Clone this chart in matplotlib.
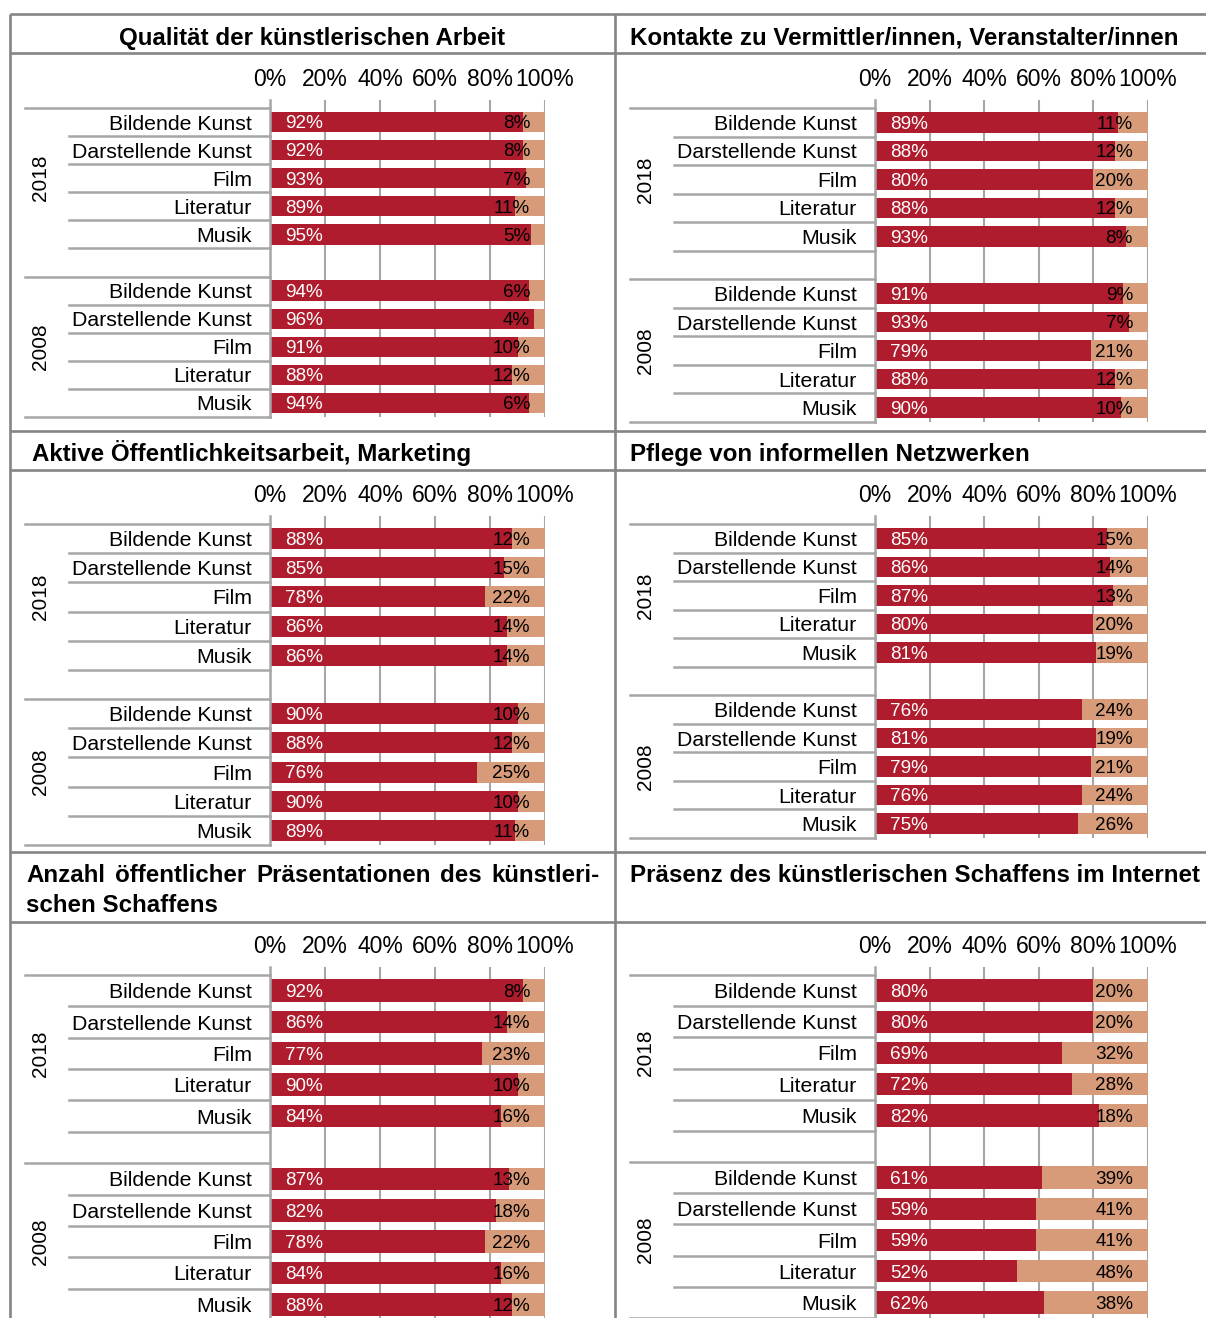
import matplotlib
matplotlib.use("Agg")
import matplotlib.pyplot as plt
import numpy as np

plt.rcParams['font.family'] = ['Liberation Sans', 'DejaVu Sans']

W, H = 1206, 1318
RED = '#AE1C2D'
TAN = '#D89B79'
FRAME = '#858585'
GRID = '#A6A6A6'

categories = ["Bildende Kunst", "Darstellende Kunst", "Film", "Literatur", "Musik"]
years = ["2018", "2008"]
tick_vals = [0, 20, 40, 60, 80, 100]
tick_labels = ["0%", "20%", "40%", "60%", "80%", "100%"]

titles = [
    "Qualität der künstlerischen Arbeit",
    "Kontakte zu Vermittler/innen, Veranstalter/innen",
    "Aktive Öffentlichkeitsarbeit, Marketing",
    "Pflege von informellen Netzwerken",
    "Anzahl öffentlicher Präsentationen des künstleri-\nschen Schaffens",
    "Präsenz des künstlerischen Schaffens im Internet",
]

# first five values: 2018, last five: 2008 (same category order)
quality_red = [92, 92, 93, 89, 95, 94, 96, 91, 88, 94]
quality_tan = [8, 8, 7, 11, 5, 6, 4, 10, 12, 6]
contacts_red = [89, 88, 80, 88, 93, 91, 93, 79, 88, 90]
contacts_tan = [11, 12, 20, 12, 8, 9, 7, 21, 12, 10]
marketing_red = [88, 85, 78, 86, 86, 90, 88, 76, 90, 89]
marketing_tan = [12, 15, 22, 14, 14, 10, 12, 25, 10, 11]
network_red = [85, 86, 87, 80, 81, 76, 81, 79, 76, 75]
network_tan = [15, 14, 13, 20, 19, 24, 19, 21, 24, 26]
present_red = [92, 86, 77, 90, 84, 87, 82, 78, 84, 88]
present_tan = [8, 14, 23, 10, 16, 13, 18, 22, 16, 12]
internet_red = [80, 80, 69, 72, 82, 61, 59, 59, 52, 62]
internet_tan = [20, 20, 32, 28, 18, 39, 41, 41, 48, 38]

panels_red = [quality_red, contacts_red, marketing_red, network_red, present_red, internet_red]
panels_tan = [quality_tan, contacts_tan, marketing_tan, network_tan, present_tan, internet_tan]

# slot positions: 5 categories, a blank slot, 5 categories
pos = [0, 1, 2, 3, 4, 6, 7, 8, 9, 10]

# panel geometry in pixels: x0, x1, top separator, bottom, year label x
geom = [
    (270, 545, 108, 417, 40),
    (875, 1148, 108, 422, 645),
    (270, 545, 524, 845, 40),
    (875, 1148, 524, 838, 645),
    (270, 545, 975, 1320, 40),
    (875, 1148, 975, 1318, 645),
]

fig = plt.figure(figsize=(W / 100, H / 100), dpi=100)

# background layer in pixel coordinates: frame and titles
bg = fig.add_axes([0, 0, 1, 1])
bg.set_xlim(0, W)
bg.set_ylim(H, 0)
bg.set_axis_off()
for y in [14, 53, 431, 470, 852, 922]:
    bg.plot([10, W], [y, y], color=FRAME, lw=1.9, solid_capstyle='butt')
for x in [10, 615]:
    bg.plot([x, x], [14, H], color=FRAME, lw=1.9, solid_capstyle='butt')

tkw = dict(fontsize=17.4, fontweight='bold', va='baseline')
bg.text(312, 44.5, titles[0], ha='center', **tkw)
bg.text(630, 44.5, titles[1], ha='left', **tkw)
bg.text(32, 461, titles[2], ha='left', **tkw)
bg.text(630, 461, titles[3], ha='left', **tkw)
bg.text(630, 882, titles[5], ha='left', **tkw)

# justified two-line title
line1, line2 = titles[4].split("\n")
words = line1.split()
txts = [bg.text(0, 881.5, w, ha='left', **tkw) for w in words]
bg.text(26, 911.5, line2, ha='left', **tkw)
fig.canvas.draw()
rend = fig.canvas.get_renderer()
widths = [t.get_window_extent(rend).width for t in txts]
gap = (600 - 26 - sum(widths)) / (len(words) - 1)
xx = 26
for t, w in zip(txts, widths):
    t.set_x(xx)
    xx += w + gap

ext = 8
for k in range(6):
    x0, x1, top, bot, yx = geom[k]
    slot = (bot - top) / 11
    ax = fig.add_axes([x0 / W, 1 - bot / H, (x1 - x0) / W, (bot - top + ext) / H])
    ax.set_xlim(0, 100)
    ax.set_ylim(10.5, -0.5 - ext / slot)
    ax.patch.set_alpha(0)

    red = np.array(panels_red[k], dtype=float)
    tan = np.array(panels_tan[k], dtype=float)
    r = red / (red + tan) * 100
    t = tan / (red + tan) * 100
    ax.barh(pos, r, height=0.72, color=RED, zorder=2)
    ax.barh(pos, t, left=r, height=0.72, color=TAN, zorder=2)

    for p, v1, v2 in zip(pos, panels_red[k], panels_tan[k]):
        ax.annotate(f"{v1}%", xy=(0, p), xytext=(10.8, -1.3), textcoords='offset points',
                    ha='left', va='center', color='white', fontsize=13.6, zorder=3)
        ax.annotate(f"{v2}%", xy=(100, p), xytext=(-10.8, -1.3), textcoords='offset points',
                    ha='right', va='center', color='black', fontsize=13.6, zorder=3)

    ax.xaxis.tick_top()
    ax.set_xticks(tick_vals, tick_labels, fontsize=16.5)
    ax.set_yticks(pos, categories * 2, fontsize=15.3)
    ax.tick_params(axis='x', length=0, pad=6.5)
    ax.tick_params(axis='y', length=0, pad=13)
    ax.grid(axis='x', color=GRID, lw=1.5, zorder=0)
    ax.set_axisbelow(True)
    for s in ['top', 'right', 'bottom']:
        ax.spines[s].set_visible(False)
    ax.spines['left'].set_color(GRID)
    ax.spines['left'].set_linewidth(1.8)

    trans = ax.get_yaxis_transform()
    fx = lambda px: (px - x0) / (x1 - x0)
    for yb in [-0.5, 5.5, 10.5]:
        ax.plot([fx(x0 - 245), 0], [yb, yb], color=GRID, lw=1.8, transform=trans, clip_on=False)
    for yb in [0.5, 1.5, 2.5, 3.5, 4.5, 6.5, 7.5, 8.5, 9.5]:
        ax.plot([fx(x0 - 201), 0], [yb, yb], color=GRID, lw=1.8, transform=trans, clip_on=False)
    ax.text(fx(yx), 2, years[0], rotation=90, ha='center', va='center', fontsize=15,
            transform=trans)
    ax.text(fx(yx), 8, years[1], rotation=90, ha='center', va='center', fontsize=15,
            transform=trans)

fig.savefig("out.png", dpi=100)
